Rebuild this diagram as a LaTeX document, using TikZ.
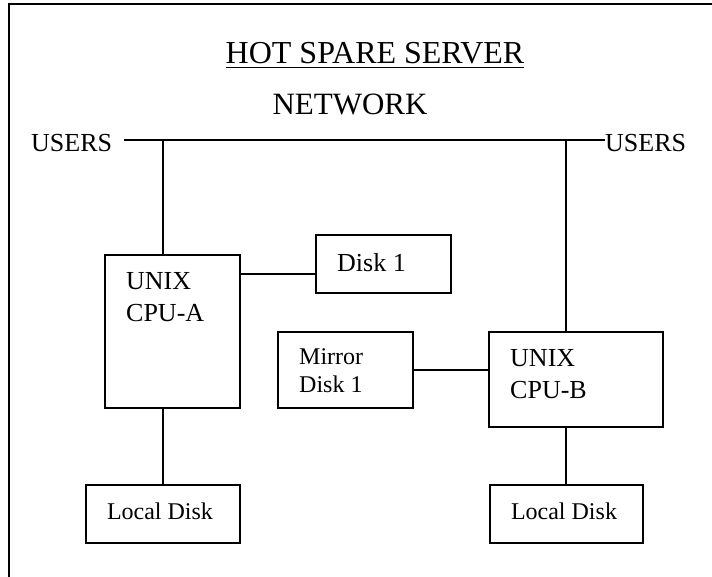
\documentclass[tikz,border=0pt]{standalone}
\usepackage{fontspec}
\setmainfont{Liberation Serif}
\tikzset{
  box/.style={draw, line width=1.8pt, rectangle, inner sep=0pt},
  wire/.style={line width=1.8pt},
  txt/.style={inner sep=0pt, anchor=base west},
  big/.style={font=\fontsize{26}{31}\selectfont},
  mid/.style={font=\fontsize{24}{29}\selectfont},
}
\begin{document}
\begin{tikzpicture}[x=1pt,y=-1pt]
\useasboundingbox (0,0) rectangle (712,577);
% frame (top and left edges)
\draw[line width=1.9pt] (712,4) -- (9,4) -- (9,577);
% title
\node[inner sep=0pt, anchor=base, font=\fontsize{32}{38}\selectfont] (title) at (375,64) {HOT SPARE SERVER};
\draw[line width=1.8pt] ([yshift=-3.5pt]title.base west) -- ([yshift=-3.5pt]title.base east);
\node[inner sep=0pt, anchor=base, font=\fontsize{31}{37}\selectfont] (network) at (350,114.5) {NETWORK};
\node[txt, big] (usersL) at (31,152) {USERS};
\node[txt, big] (usersR) at (605,152) {USERS};
% boxes
\node[box, minimum width=135, minimum height=153] (cpuA) at (172.5,331.5) {};
\node[box, minimum width=135, minimum height=58] (disk1) at (383.5,264) {};
\node[box, minimum width=135, minimum height=76] (mirror) at (345.5,370) {};
\node[box, minimum width=174, minimum height=95] (cpuB) at (576,379.5) {};
\node[box, minimum width=154, minimum height=58] (localA) at (163,514) {};
\node[box, minimum width=153, minimum height=58] (localB) at (566.5,514) {};
% box texts
\node[txt, big] (cpuAl1) at (126,290) {UNIX};
\node[txt, big] (cpuAl2) at (126,322) {CPU-A};
\node[txt, big] (disk1t) at (337,272) {Disk 1};
\node[txt, mid] (mirrorl1) at (299,364) {Mirror};
\node[txt, mid] (mirrorl2) at (299,392) {Disk 1};
\node[txt, big] (cpuBl1) at (510,366) {UNIX};
\node[txt, big] (cpuBl2) at (510,398) {CPU-B};
\node[inner sep=0pt, anchor=base, mid] (localAt) at (160,519) {Local Disk};
\node[inner sep=0pt, anchor=base, mid] (localBt) at (564,519) {Local Disk};
% connector coordinates
\coordinate (netL) at (124,140);
\coordinate (netR) at (605,140);
\coordinate (tapA) at (163,140);
\coordinate (tapB) at (566,140);
\coordinate (lnkA) at (0,274);
% connectors
\draw[wire] (netL) -- (netR);
\draw[wire] (tapA) -- (tapA |- cpuA.north);
\draw[wire] (tapA |- cpuA.south) -- (tapA |- localA.north);
\draw[wire] (cpuA.east |- lnkA) -- (disk1.west |- lnkA);
\draw[wire] (tapB) -- (tapB |- cpuB.north);
\draw[wire] (tapB |- cpuB.south) -- (tapB |- localB.north);
\draw[wire] (mirror.east) -- (cpuB.west |- mirror.east);
\end{tikzpicture}
\end{document}
